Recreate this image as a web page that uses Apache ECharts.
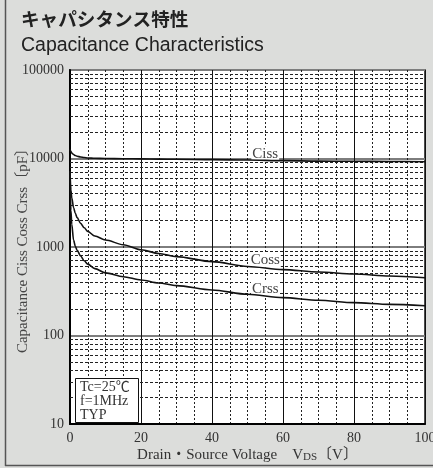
<!DOCTYPE html>
<html>
<head>
<meta charset="utf-8">
<script src="https://cdn.jsdelivr.net/npm/echarts@6/dist/echarts.min.js"></script>
<style>
  html, body { margin: 0; padding: 0; background: #dcdddb; }
  #chart { width: 433px; height: 468px; }
</style>
</head>
<body>
<div id="chart"></div>
<script>
// drain-source voltage (V)
var voltage = [0, 0.25, 0.5, 1, 1.5, 2, 3, 4, 5, 7, 10, 15, 20, 25, 30, 40, 50, 60, 70, 80, 90, 100];
// capacitances (pF)
var ciss = [12600, 12000, 11500, 11100, 10800, 10600, 10400, 10250, 10150, 10050, 10000, 9950, 9900, 9850, 9800, 9700, 9600, 9450, 9350, 9300, 9250, 9200];
var coss = [7200, 4400, 3600, 2800, 2400, 2150, 1850, 1650, 1500, 1330, 1200, 1060, 930, 845, 778, 683, 602, 555, 522, 495, 470, 450];
var crss = [7200, 2600, 1800, 1200, 1020, 920, 790, 700, 640, 570, 510, 462, 424, 392, 366, 327, 292, 268, 250, 235, 225, 217];

// curve labels: name, voltage where the label sits, value at its foot
var curveLabels = [
  ['Ciss', 55, 9100],
  ['Coss', 55, 570],
  ['Crss', 55, 268]
];

// minor horizontal grid lines (2..9 per decade)
var minorY = [20, 30, 40, 50, 60, 70, 80, 90,
  200, 300, 400, 500, 600, 700, 800, 900,
  2000, 3000, 4000, 5000, 6000, 7000, 8000, 9000,
  20000, 30000, 40000, 50000, 60000, 70000, 80000, 90000];

var serif = '"Liberation Serif", "Noto Sans CJK JP", serif';

function pairs(ys) {
  return voltage.map(function (v, i) { return [v, ys[i]]; });
}

function curve(name, ys) {
  var lab = curveLabels.filter(function (c) { return c[0] === name; })[0];
  return {
    name: name,
    type: 'line',
    data: pairs(ys),
    showSymbol: false,
    smooth: 0.3,
    smoothMonotone: 'x',
    lineStyle: { color: '#111', width: 1.6 },
    z: 5,
    markPoint: {
      symbol: 'circle',
      symbolSize: 0,
      silent: true,
      label: {
        show: true,
        position: 'top',
        distance: 1,
        formatter: name,
        color: '#444',
        fontFamily: serif,
        fontSize: 15,
        backgroundColor: '#fff',
        padding: [0, 1, 0, 1]
      },
      data: [{ coord: [lab[1], lab[2]] }]
    }
  };
}

var chart = echarts.init(document.getElementById('chart'));

var option = {
  animation: false,
  backgroundColor: '#dcdddb',
  title: [
    {
      text: 'キャパシタンス特性',
      left: 16, top: 5,
      textStyle: { fontFamily: '"Noto Sans CJK JP"', fontSize: 18.6, fontWeight: 'bold', color: '#222' }
    },
    {
      text: 'Capacitance Characteristics',
      left: 16, top: 31,
      textStyle: { fontFamily: '"Liberation Sans", Arial', fontSize: 19.5, fontWeight: 'normal', color: '#222' }
    }
  ],
  grid: {
    left: 70, right: 8, top: 70, bottom: 44,
    outerBoundsMode: 'none',
    containLabel: false,
    show: true,
    backgroundColor: '#fff',
    borderColor: '#111',
    borderWidth: 1.5
  },
  xAxis: {
    type: 'value',
    min: 0, max: 100, interval: 20,
    name: 'Drain・Source Voltage　V{s|DS}〔V〕',
    nameLocation: 'middle',
    nameGap: 24,
    nameMoveOverlap: false,
    nameTextStyle: {
      fontFamily: serif, fontSize: 15, color: '#333',
      rich: { s: { fontFamily: serif, fontSize: 11, color: '#333', verticalAlign: 'bottom' } }
    },
    axisLine: { lineStyle: { color: '#000', width: 2 } },
    axisTick: { show: false },
    axisLabel: { margin: 7, fontFamily: serif, fontSize: 14, color: '#333' },
    splitLine: { show: true, lineStyle: { color: '#111', width: 1 } },
    minorTick: { show: false, splitNumber: 4 },
    minorSplitLine: { show: true, lineStyle: { color: '#222', width: 1, type: [2, 2] } }
  },
  yAxis: {
    type: 'log',
    logBase: 10,
    min: 10, max: 100000,
    name: 'Capacitance Ciss Coss Crss〔pF〕',
    nameLocation: 'middle',
    nameGap: 39,
    nameMoveOverlap: false,
    nameTextStyle: { fontFamily: serif, fontSize: 15, color: '#444' },
    axisLine: { show: true, lineStyle: { color: '#000', width: 2 } },
    axisTick: { show: false },
    axisLabel: {
      margin: 6, fontFamily: serif, fontSize: 14, color: '#333',
      formatter: function (v) { return String(Math.round(v)); }
    },
    splitLine: { show: true, lineStyle: { color: '#7d7d7d', width: 2 } }
  },
  graphic: [
    {
      type: 'line', silent: true,
      shape: { x1: 5.5, y1: 0, x2: 5.5, y2: 466 },
      style: { stroke: '#555', lineWidth: 1.5 }
    },
    {
      type: 'line', silent: true,
      shape: { x1: 5, y1: 465.5, x2: 433, y2: 465.5 },
      style: { stroke: '#555', lineWidth: 1.5 }
    },
    {
      type: 'rect', left: 75, top: 378, z: 100,
      shape: { width: 63, height: 44 },
      style: { fill: '#fff', stroke: '#111', lineWidth: 1 }
    },
    {
      type: 'text', left: 80, top: 380, z: 101,
      style: {
        text: 'Tc=25℃\nf=1MHz\nTYP',
        font: '14px ' + serif,
        lineHeight: 14,
        fill: '#333'
      }
    }
  ],
  series: [
    {
      name: 'minor',
      type: 'line',
      data: [],
      silent: true,
      z: 1,
      markLine: {
        silent: true,
        symbol: 'none',
        animation: false,
        label: { show: false },
        lineStyle: { color: '#222', width: 1, type: [3, 2] },
        data: minorY.map(function (v) { return { yAxis: v }; })
      }
    },
    curve('Ciss', ciss),
    curve('Coss', coss),
    curve('Crss', crss)
  ]
};

chart.setOption(option);
</script>
</body>
</html>
